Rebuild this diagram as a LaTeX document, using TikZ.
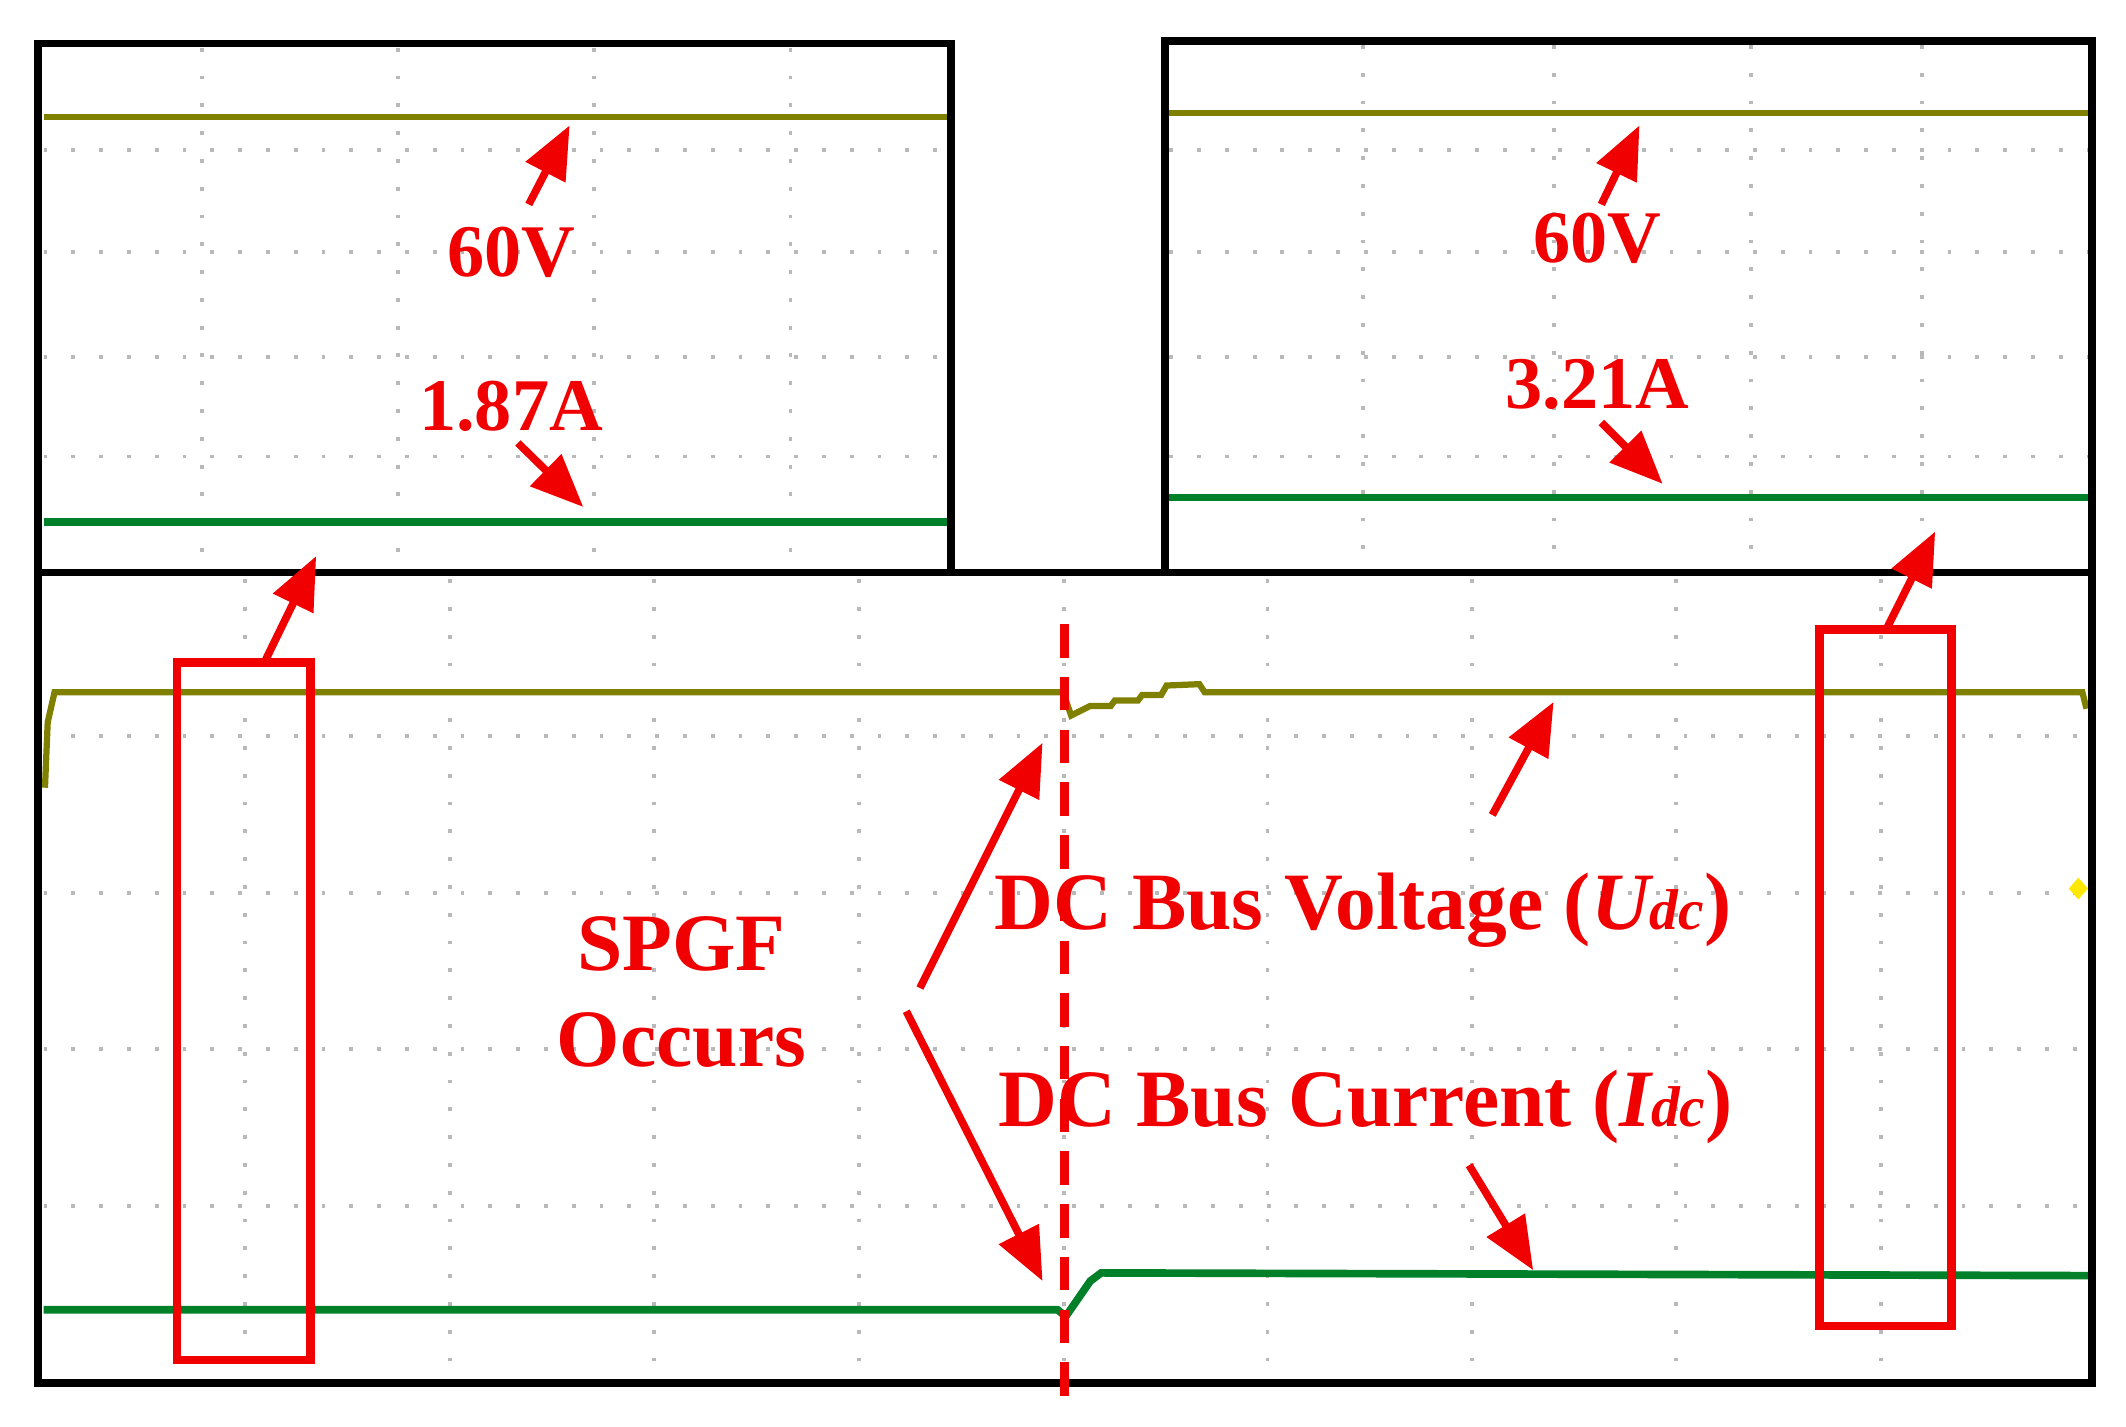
\documentclass[tikz,border=0pt]{standalone}
\usepackage{fontspec}
\setmainfont{Liberation Serif}
\usetikzlibrary{arrows.meta}
\definecolor{volt}{RGB}{128,128,0}
\definecolor{curr}{RGB}{0,128,40}
\definecolor{myred}{RGB}{240,0,0}
\tikzset{
 frame/.style={draw=black,line width=1.6pt},
 gridl/.style={draw=gray!55,line width=0.8pt,dash pattern=on 0.8pt off 5pt},
 vtrace/.style={draw=volt,line width=1.3pt},
 itrace/.style={draw=curr,line width=1.6pt},
 rarrow/.style={draw=myred,line width=1.6pt,-{Triangle[length=11pt,width=9pt]}},
 rbox/.style={draw=myred,line width=1.8pt},
 lab/.style={text=myred,font=\bfseries\fontsize{15.5}{18}\selectfont},
 biglab/.style={text=myred,font=\bfseries\fontsize{17}{20}\selectfont}
}
\begin{document}
\begin{tikzpicture}[x=0.01cm,y=-0.01cm]
\useasboundingbox (0,0) rectangle (1560,1047);
% grids
\foreach \x in {180,330,480,630,930,1080,1230,1380} \draw[gridl] (\x,425)--(\x,1012);
\foreach \y in {540,655,770,885} \draw[gridl] (32,\y)--(1532,\y);
\draw[gridl] (781,425)--(781,1012);
\foreach \x in {148,292,436,580} \draw[gridl] (\x,35)--(\x,418);
\foreach \y in {110,185,262,335} \draw[gridl] (32,\y)--(695,\y);
\foreach \x in {1000,1140,1285,1410} \draw[gridl] (\x,33)--(\x,418);
\foreach \y in {110,185,262,335} \draw[gridl] (858,\y)--(1532,\y);
% traces top
\draw[vtrace] (32,86)--(695,86);
\draw[itrace] (32,383)--(695,383);
\draw[vtrace] (858,83)--(1532,83);
\draw[itrace] (858,365)--(1532,365);
% traces bottom
\draw[vtrace] (33,578)--(35,530)--(40,508)--(780,508)--(786,525)--(800,518)--(815,518)--(818,514)--(835,514)--(838,510)--(852,510)--(856,503)--(880,502)--(884,508)--(1528,508)--(1531,520);
\draw[itrace] (32,961)--(776,961)--(782,966)--(800,940)--(808,934)--(1532,936);
% frames
\draw[frame] (28,32) rectangle (698,420);
\draw[frame] (855,30) rectangle (1535,420);
\draw[frame] (28,420) rectangle (1535,1015);
% marker
\fill[yellow!90!orange] (1525,644)--(1532,652)--(1525,660)--(1518,652)--cycle;
% red dashed
\draw[myred,line width=2pt,dash pattern=on 7pt off 4pt] (781,458)--(781,1030);
% boxes
\draw[rbox] (130,486) rectangle (228,998);
\draw[rbox] (1335,462) rectangle (1432,973);
\coordinate (b1) at (195,484); \coordinate (b1e) at (232,408);
\coordinate (b2) at (1385,460); \coordinate (b2e) at (1420,390);
\draw[rarrow] (b1)--(b1e);
\draw[rarrow] (b2)--(b2e);
% top-left labels
\node[lab] (v1) at (375,185) {60V};
\node[lab] (i1) at (375,298) {1.87A};
\coordinate (v1e) at (418,92); \coordinate (i1e) at (428,372);
\draw[rarrow] (388,150)--(v1e);
\draw[rarrow] (380,325)--(i1e);
% top-right labels
\node[lab] (v2) at (1172,175) {60V};
\node[lab] (i2) at (1172,282) {3.21A};
\coordinate (v2e) at (1203,92); \coordinate (i2e) at (1220,355);
\draw[rarrow] (1175,150)--(v2e);
\draw[rarrow] (1175,310)--(i2e);
% bottom labels
\node[biglab,align=center] (sp) at (500,728) {SPGF\\Occurs};
\node[biglab] (dv) at (1000,668) {DC Bus Voltage (\textit{U\fontsize{12}{14}\selectfont dc})};
\node[biglab] (dcur) at (1002,812) {DC Bus Current (\textit{I\fontsize{12}{14}\selectfont dc})};
\coordinate (a1) at (765,545); \coordinate (a2) at (765,940);
\draw[rarrow] (675,725)--(a1);
\draw[rarrow] (665,742)--(a2);
\draw[rarrow] (1095,598)--(1140,515);
\draw[rarrow] (1078,855)--(1125,932);
\end{tikzpicture}
\end{document}
